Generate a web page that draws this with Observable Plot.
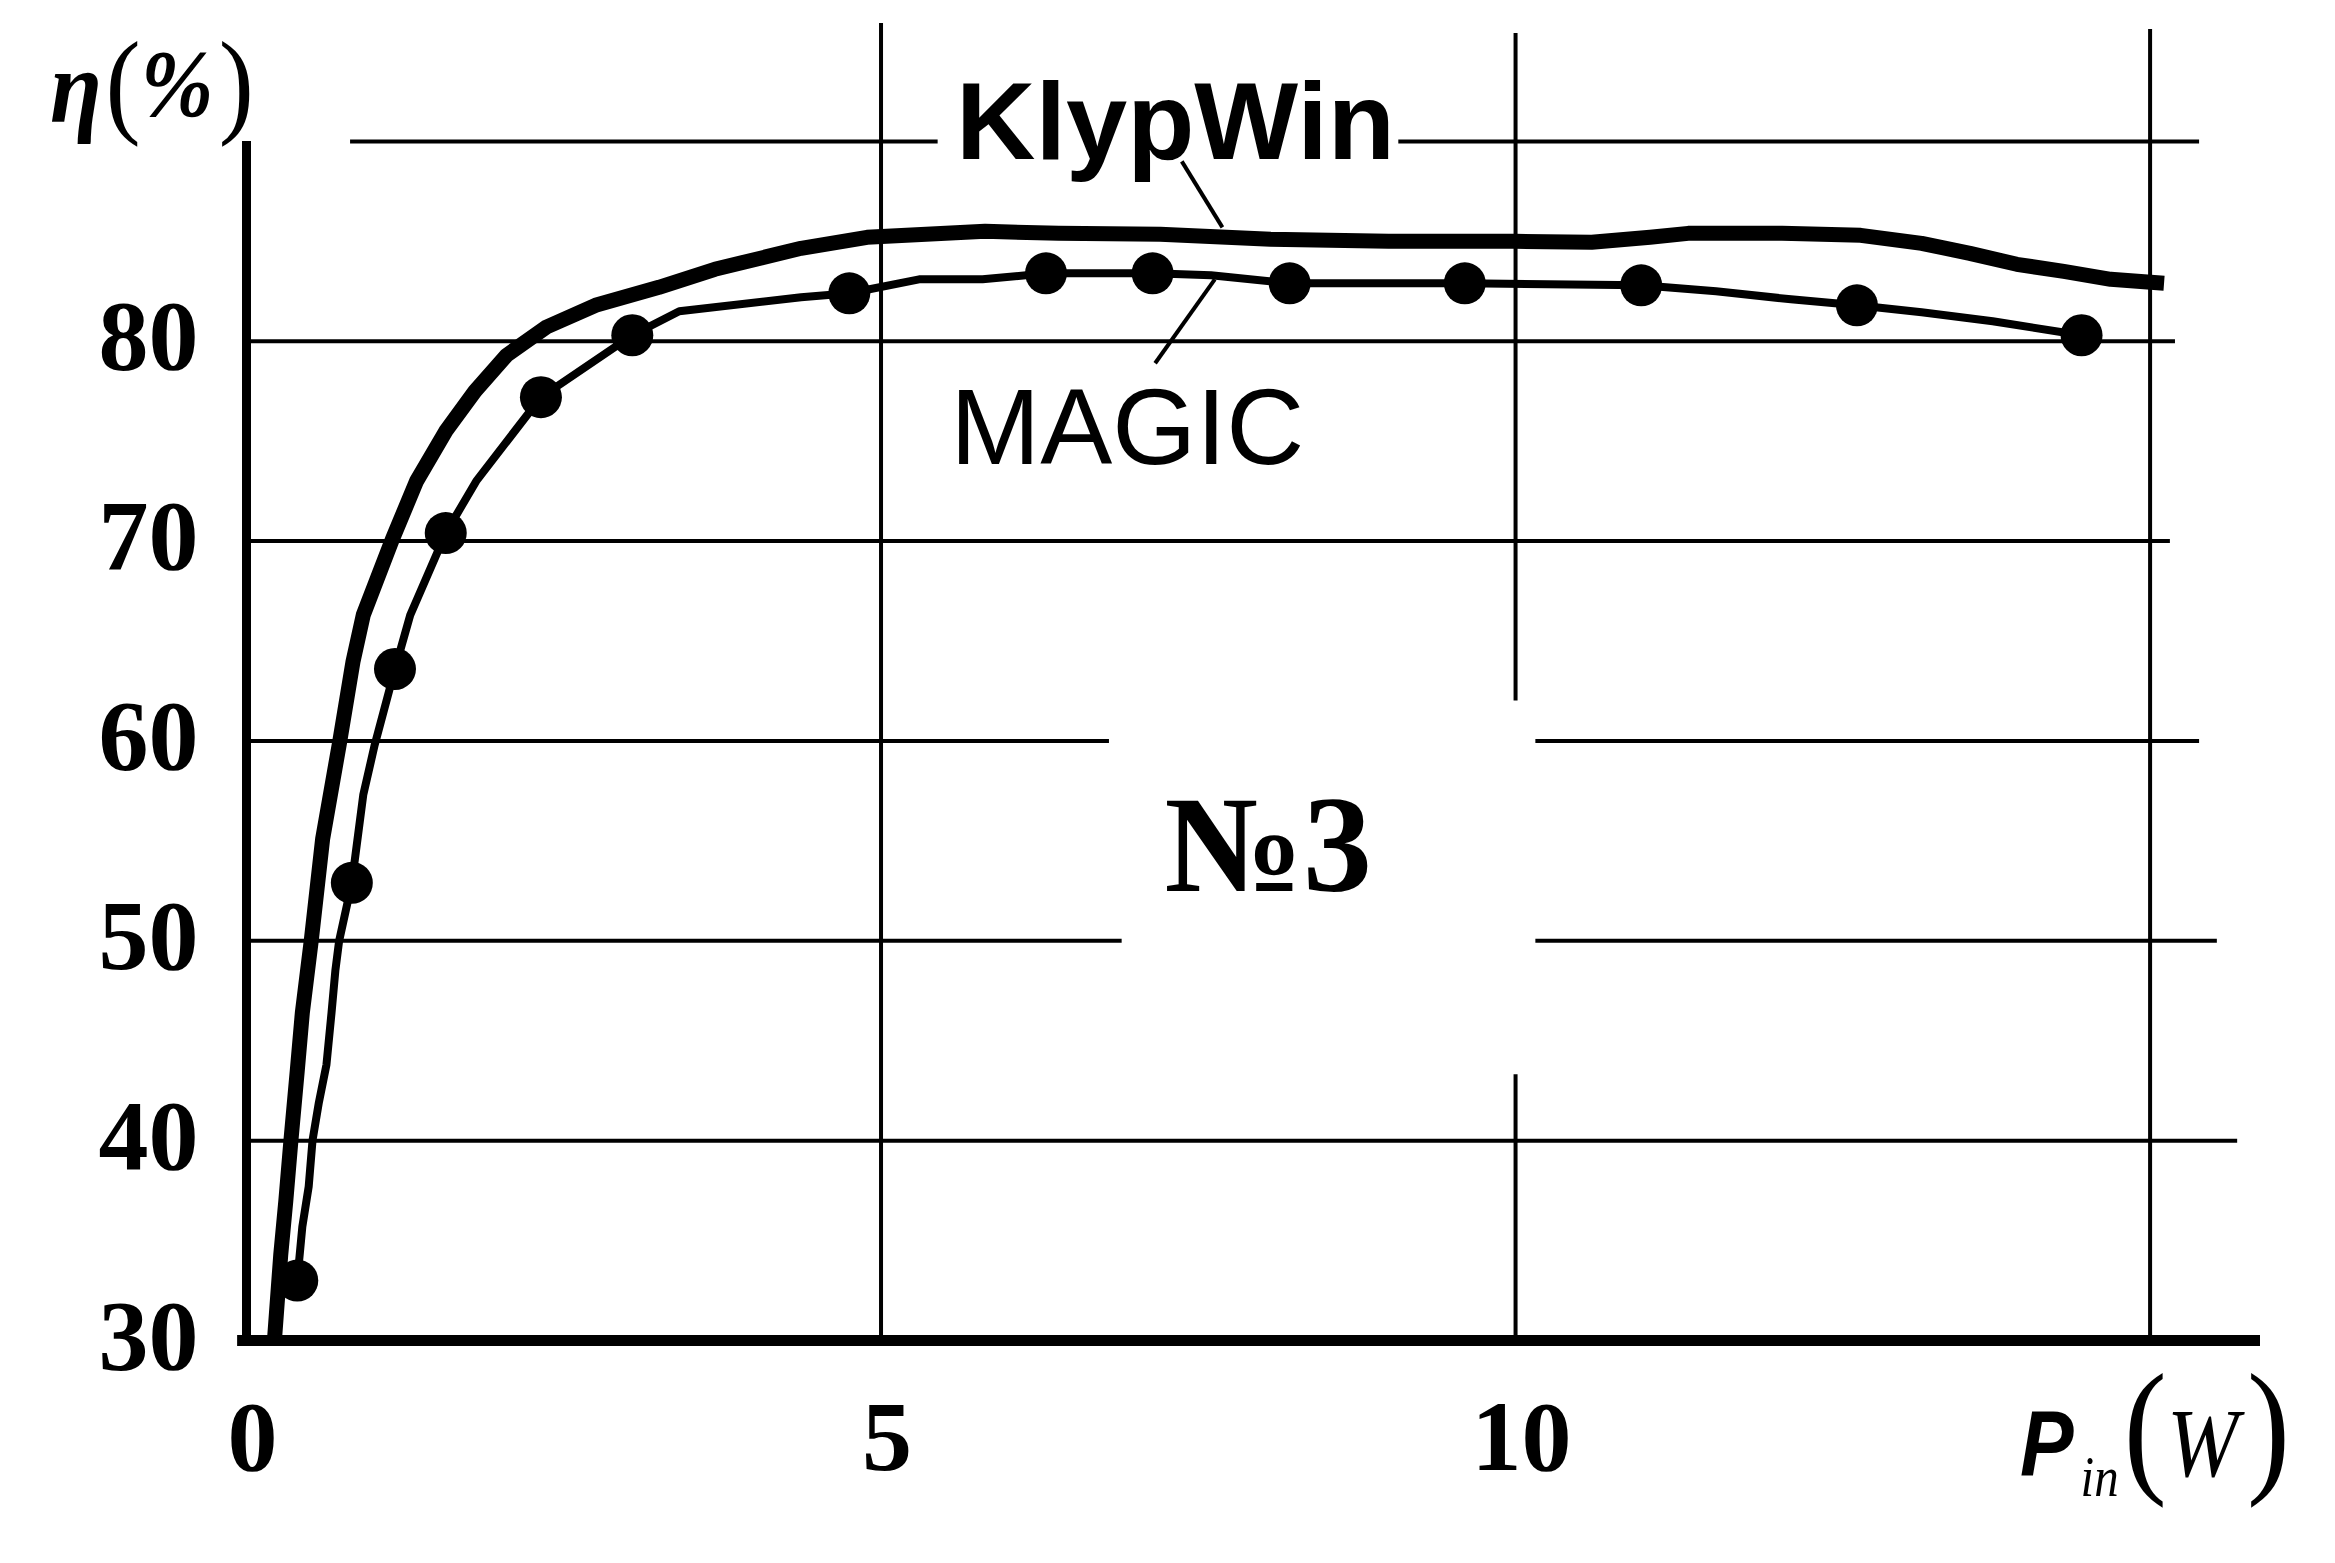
<!DOCTYPE html>
<html>
<head>
<meta charset="utf-8">
<script src="https://cdn.jsdelivr.net/npm/d3@7"></script>
<script src="https://cdn.jsdelivr.net/npm/@observablehq/plot@0.6"></script>
<style>
  html, body { margin: 0; padding: 0; background: #fff; }
  #chart svg { display: block; }
</style>
</head>
<body>
<div id="chart"></div>
<script>
// ---- data ----
const xTicks = [0, 5, 10];
const yTicks = [30, 40, 50, 60, 70, 80];

// KlypWin curve (solid thick line)
const klypX = [0.22, 0.27, 0.31, 0.35, 0.40, 0.44, 0.51, 0.60, 0.73, 0.84, 0.92, 1.15, 1.34, 1.57, 1.80, 2.05, 2.36, 2.75, 3.25, 3.69, 4.37, 4.89, 5.82, 6.40, 7.20, 8.07, 9.00, 10.00, 10.60, 11.06, 11.36, 12.10, 12.72, 13.20, 13.58, 13.95, 14.32, 14.69, 15.11];
const klypY = [30.0, 34.3, 37.0, 40.0, 43.5, 46.4, 50.0, 55.1, 59.8, 64.0, 66.3, 70.1, 73.0, 75.5, 77.5, 79.3, 80.7, 81.8, 82.7, 83.6, 84.65, 85.2, 85.5, 85.4, 85.35, 85.1, 85.0, 85.0, 84.95, 85.2, 85.4, 85.4, 85.3, 84.9, 84.4, 83.85, 83.5, 83.1, 82.9];

// MAGIC curve (thin line) and its simulation points (dots)
const magicX = [0.40, 0.44, 0.49, 0.52, 0.57, 0.63, 0.67, 0.70, 0.73, 0.83, 0.92, 1.01, 1.17, 1.29, 1.57, 1.81, 2.32, 3.04, 3.41, 4.37, 4.75, 5.30, 5.80, 6.30, 7.14, 7.60, 8.22, 9.60, 10.99, 11.58, 12.17, 12.69, 13.20, 13.76, 14.46];
const magicY = [33.0, 35.7, 37.7, 40.0, 41.9, 43.8, 46.4, 48.5, 50.0, 52.9, 57.3, 59.8, 63.6, 66.3, 70.4, 73.0, 77.2, 80.3, 81.5, 82.2, 82.4, 83.1, 83.1, 83.4, 83.4, 83.3, 82.9, 82.9, 82.8, 82.5, 82.1, 81.8, 81.45, 81.0, 80.3];
const magicDotX = [0.40, 0.83, 1.17, 1.57, 2.32, 3.04, 4.75, 6.30, 7.14, 8.22, 9.60, 10.99, 12.69, 14.46];
const magicDotY = [33.0, 52.9, 63.6, 70.4, 77.2, 80.3, 82.4, 83.4, 83.4, 82.9, 82.9, 82.8, 81.8, 80.3];

// grid segments (data units)
const hGridY  = [90, 90, 80, 70, 60, 60, 50, 50, 40];
const hGridX1 = [0.82, 9.08, 0, 0, 0, 10.16, 0, 10.16, 0];
const hGridX2 = [5.45, 15.39, 15.2, 15.16, 6.80, 15.39, 6.90, 15.53, 15.69];
const vGridX  = [5, 10, 10, 15];
const vGridY1 = [30, 30, 62, 30];
const vGridY2 = [95.9, 43.3, 95.4, 95.6];

// series labels and leader lines
const seriesNames = ["KlypWin", "MAGIC"];
const labelX = [7.32, 6.94];
const labelY = [90.9, 75.6];
const leaderX1 = [7.37, 7.63];
const leaderY1 = [89.0, 83.1];
const leaderX2 = [7.69, 7.16];
const leaderY2 = [85.7, 78.9];
const noteText = ["№3"];
const noteX = [8.05];
const noteY = [54.7];

const idx = a => d3.range(a.length);
const serif = "'Liberation Serif', 'Times New Roman', 'DejaVu Serif', serif";
const sans = "'Liberation Sans', Arial, 'DejaVu Sans', sans-serif";

const chart = Plot.plot({
  width: 2335,
  height: 1563,
  marginLeft: 246,
  marginRight: 75,
  marginTop: 23,
  marginBottom: 223,
  x: {domain: [0, 15.87], axis: null},
  y: {domain: [30, 95.9], axis: null},
  style: {background: "white", color: "black"},
  marks: [
    Plot.ruleY(idx(hGridY), {y: i => hGridY[i], x1: i => hGridX1[i], x2: i => hGridX2[i], stroke: "black", strokeWidth: 4}),
    Plot.ruleX(idx(vGridX), {x: i => vGridX[i], y1: i => vGridY1[i], y2: i => vGridY2[i], stroke: "black", strokeWidth: 4}),
    // axes
    Plot.ruleX([0], {y1: 30, y2: 90, stroke: "black", strokeWidth: 9}),
    Plot.ruleY([30], {x1: -0.07, x2: 15.87, stroke: "black", strokeWidth: 11}),
    // curves
    Plot.line(idx(klypX), {x: i => klypX[i], y: i => klypY[i], stroke: "black", strokeWidth: 15, strokeLinejoin: "round", strokeLinecap: "butt"}),
    Plot.line(idx(magicX), {x: i => magicX[i], y: i => magicY[i], stroke: "black", strokeWidth: 8, strokeLinejoin: "round"}),
    Plot.dot(idx(magicDotX), {x: i => magicDotX[i], y: i => magicDotY[i], r: 21, fill: "black", stroke: null}),
    // leaders
    Plot.link(idx(leaderX1), {x1: i => leaderX1[i], y1: i => leaderY1[i], x2: i => leaderX2[i], y2: i => leaderY2[i], stroke: "black", strokeWidth: 4}),
    // labels
    Plot.text([0], {x: i => labelX[i], y: i => labelY[i], text: i => seriesNames[i], fontSize: 110, fontWeight: "bold", fontFamily: sans, textAnchor: "middle", lineAnchor: "middle", fill: "black"}),
    Plot.text([1], {x: i => labelX[i], y: i => labelY[i], text: i => seriesNames[i], fontSize: 108, fontFamily: sans, textAnchor: "middle", lineAnchor: "middle", fill: "black"}),
    Plot.text(idx(noteText), {x: i => noteX[i], y: i => noteY[i], text: i => noteText[i], fontSize: 138, fontWeight: "bold", fontFamily: serif, textAnchor: "middle", lineAnchor: "middle", fill: "black"}),
    // tick labels
    Plot.text(yTicks, {x: 0, y: d => d, text: d => String(d), dx: -48, dy: -4, textAnchor: "end", lineAnchor: "middle", fontSize: 100, fontWeight: "bold", fontFamily: serif, fill: "black"}),
    Plot.text(xTicks, {x: d => d, y: 30, text: d => String(d), dx: 6, dy: 97, textAnchor: "middle", lineAnchor: "middle", fontSize: 100, fontWeight: "bold", fontFamily: serif, fill: "black"})
  ]
});

document.getElementById("chart").appendChild(chart);

// axis titles with mixed typography
const svg = d3.select(chart);
const eta = svg.append("text").attr("x", 50).attr("y", 122).attr("text-anchor", "start").attr("fill", "black")
  .attr("textLength", 204).attr("lengthAdjust", "spacingAndGlyphs");
eta.append("tspan").attr("font-family", serif).attr("font-style", "italic").attr("font-weight", "bold").attr("font-size", 104).text("η");
eta.append("tspan").attr("font-family", serif).attr("font-size", 116).attr("dx", 4).text("(");
eta.append("tspan").attr("font-family", serif).attr("font-style", "italic").attr("font-weight", "bold").attr("font-size", 96).attr("dy", -6).text("%");
eta.append("tspan").attr("font-family", serif).attr("font-size", 116).attr("dy", 6).attr("dx", 6).text(")");

const pin = svg.append("text").attr("x", 2020).attr("y", 1476).attr("text-anchor", "start").attr("fill", "black")
  .attr("textLength", 270).attr("lengthAdjust", "spacingAndGlyphs");
pin.append("tspan").attr("font-family", sans).attr("font-style", "italic").attr("font-weight", "bold").attr("font-size", 92).text("P");
pin.append("tspan").attr("font-family", serif).attr("font-style", "italic").attr("font-size", 56).attr("dy", 20).attr("dx", 8).text("in");
pin.append("tspan").attr("font-family", serif).attr("font-size", 148).attr("dy", -20).attr("dx", 6).text("(");
pin.append("tspan").attr("font-family", serif).attr("font-style", "italic").attr("font-size", 98).text("W");
pin.append("tspan").attr("font-family", serif).attr("font-size", 148).attr("dx", 10).text(")");
</script>
</body>
</html>
